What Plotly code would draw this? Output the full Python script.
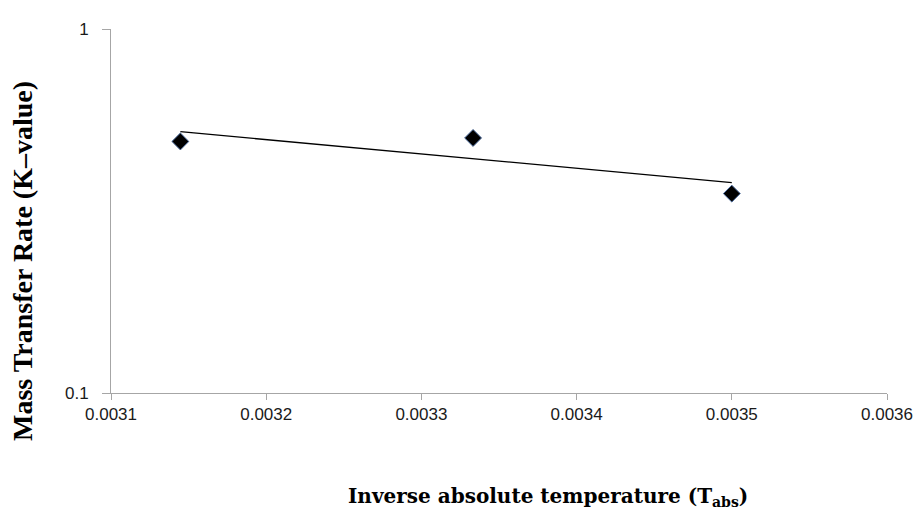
import numpy as np
import plotly.graph_objects as go

# Data
inv_temp = [0.0031447, 0.0033333, 0.0035]
k_value = [0.491, 0.502, 0.353]

x_ticks = [0.0031, 0.0032, 0.0033, 0.0034, 0.0035, 0.0036]
x_tick_text = ["0.0031", "0.0032", "0.0033", "0.0034", "0.0035", "0.0036"]
y_ticks = [0.1, 1]
y_tick_text = ["0.1", "1"]

# Exponential trendline (Excel style): ln(y) = a + b*x
b, a = np.polyfit(np.array(inv_temp), np.log(np.array(k_value)), 1)
trend_x = [min(inv_temp), max(inv_temp)]
trend_y = [float(np.exp(a + b * v)) for v in trend_x]

fig = go.Figure()
fig.add_trace(go.Scatter(
    x=trend_x, y=trend_y, mode="lines",
    line=dict(color="#000000", width=1.3), hoverinfo="skip", showlegend=False))
fig.add_trace(go.Scatter(
    x=inv_temp, y=k_value, mode="markers",
    marker=dict(symbol="diamond", size=13, color="#000000",
                line=dict(color="#4a6a9c", width=1)),
    showlegend=False))

axis_common = dict(
    showline=True, linecolor="#a6a6a6", linewidth=1,
    ticks="outside", tickcolor="#a6a6a6", tickwidth=1,
    showgrid=False, zeroline=False,
    tickfont=dict(family="Liberation Sans", size=17, color="#1a1a1a"),
)

fig.update_xaxes(range=[0.0031, 0.0036], tickvals=x_ticks, ticktext=x_tick_text,
                 ticklen=6, **axis_common)
fig.update_yaxes(type="log", range=[-1, 0], tickvals=y_ticks, ticktext=y_tick_text,
                 ticklen=8, ticklabelstandoff=10, **axis_common)

fig.add_annotation(
    text="<b>Mass Transfer Rate (K–value)</b>", textangle=-90,
    xref="paper", yref="paper", x=0, y=0.5, xanchor="center", yanchor="middle",
    xshift=-89, yshift=-50, showarrow=False,
    font=dict(family="Liberation Serif", size=28, color="#000000"),
)
fig.add_annotation(
    text="<b>Inverse absolute temperature (T<sub>abs</sub>)</b>",
    xref="paper", yref="paper", x=0.5, y=0, xanchor="center", yanchor="middle",
    xshift=49, yshift=-104, showarrow=False,
    font=dict(family="DejaVu Serif", size=20, color="#000000"),
)

# The page body adds an 8px offset, so margins are reduced by 8px on left/top.
fig.update_layout(
    width=921, height=525,
    margin=dict(l=103, r=42, t=16, b=140),
    paper_bgcolor="white", plot_bgcolor="white",
    showlegend=False,
)

fig.write_html("out.html")
